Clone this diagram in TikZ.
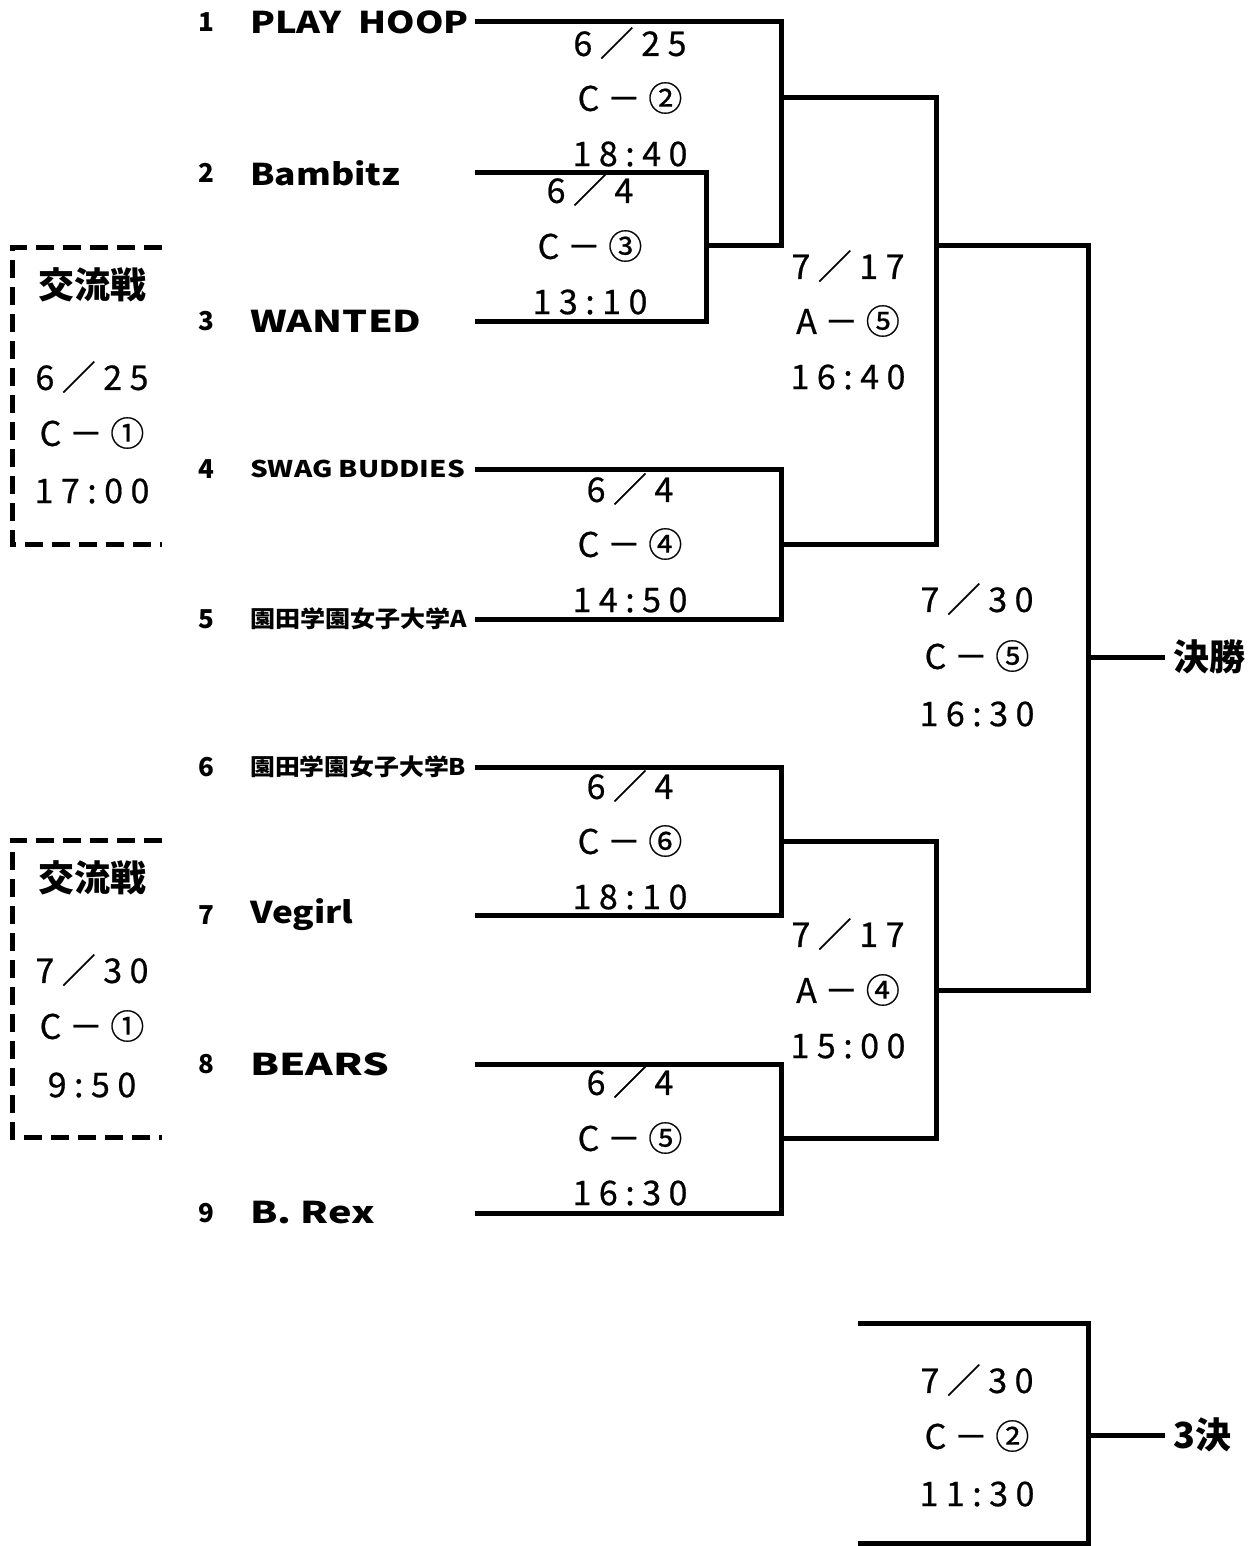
\documentclass[tikz,border=0pt]{standalone}
\usepackage{graphicx}
\usepackage{fontspec}
\setmainfont{Noto Sans CJK JP}
\newfontfamily\datef{Noto Sans CJK JP}[LetterSpace=22,FakeBold=0.6]
\newcommand\hs[2]{\scalebox{#1}[1]{#2}}
\begin{document}
\begin{tikzpicture}[x=1pt,y={(0pt,-1pt)}]
\tikzset{
  ln/.style={line width=5pt},
  dbox/.style={line width=5pt, dash pattern=on 18pt off 9pt},
  team/.style={anchor=west, inner sep=0pt, font=\fontsize{30}{30}\selectfont\bfseries},
  steam/.style={anchor=west, inner sep=0pt, font=\fontsize{23}{23}\selectfont\bfseries},
  num/.style={inner sep=0pt, font=\fontsize{26}{26}\selectfont\bfseries},
  dt/.style={inner sep=0pt, font=\fontsize{34}{34}\datef},
  hd/.style={inner sep=0pt, font=\fontsize{36}{36}\selectfont\bfseries},
}
\useasboundingbox (0,0) rectangle (1256,1546);
% team numbers and names
\foreach \i/\y in {1/22,2/173,3/321,4/469,5/619,6/767,7/915,8/1064,9/1213}{
  \node[num] (n\i) at (206,\y) {\i};
  \coordinate (s\i) at (475,\y);
}
\node[team] (t1) at (250,22) {\hs{1.21}{PLAY\ \ HOOP}};
\node[team] (t2) at (250,173) {\hs{1.18}{Bambitz}};
\node[team] (t3) at (250,321) {\hs{1.31}{WANTED}};
\node[steam] (t4) at (250,469) {\hs{1.21}{SWAG BUDDIES}};
\node[steam] (t5) at (250,619) {\hs{1.09}{園田学園女子大学A}};
\node[steam] (t6) at (250,767) {\hs{1.08}{園田学園女子大学B}};
\node[team] (t7) at (250,915) {\hs{1.17}{Vegirl}};
\node[team] (t8) at (250,1064) {\hs{1.4}{BEARS}};
\node[team] (t9) at (250,1213) {\hs{1.32}{B.\ Rex}};
% bracket coordinates
\coordinate (a23) at (706,246);
\coordinate (b1) at (781,98);
\coordinate (b45) at (781,544);
\coordinate (b67) at (781,841);
\coordinate (b89) at (781,1138);
\coordinate (c1) at (936,246);
\coordinate (c2) at (936,990);
\coordinate (f) at (1088,657);
\coordinate (fe) at (1165,657);
\coordinate (g) at (1088,1435);
\coordinate (ge) at (1165,1435);
% first round
\draw[ln] (s2) -- (706,173) -- (706,321) -- (s3);
\draw[ln] (s1) -- (781,22) -- (781,246) -- (a23);
\draw[ln] (s4) -- (781,469) -- (781,619) -- (s5);
\draw[ln] (s6) -- (781,767) -- (781,915) -- (s7);
\draw[ln] (s8) -- (781,1064) -- (781,1213) -- (s9);
% second round
\draw[ln] (b1) -- (936,98) -- (936,544) -- (b45);
\draw[ln] (b67) -- (936,841) -- (936,1138) -- (b89);
% final
\draw[ln] (c1) -- (1088,246) -- (1088,990) -- (c2);
\draw[ln] (f) -- (fe);
\node[hd, anchor=west] (fin) at (1173,657) {決勝};
% third place
\draw[ln] (858,1323) -- (1088,1323) -- (1088,1543) -- (858,1543);
\draw[ln] (g) -- (ge);
\node[hd, anchor=west] (thr) at (1173,1435) {3決};
% dashed boxes
\draw[dbox] (162,248) -- (12,248) -- (12,544) -- (162,544);
\draw[dbox] (162,840) -- (12,840) -- (12,1137) -- (162,1137);
\node[hd] (k1) at (92,285) {交流戦};
\node[dt] (k1a) at (92,377) {6／25};
\node[dt] (k1b) at (92,433) {C－①};
\node[dt] (k1c) at (92,491) {17:00};
\node[hd] (k2) at (92,878) {交流戦};
\node[dt] (k2a) at (92,970) {7／30};
\node[dt] (k2b) at (92,1026) {C－①};
\node[dt] (k2c) at (92,1085) {9:50};
% match labels
\node[dt] (m1a) at (630,43) {6／25};
\node[dt] (m1b) at (630,98) {C－②};
\node[dt] (m1c) at (630,154) {18:40};
\node[dt] (m2a) at (590,190) {6／4};
\node[dt] (m2b) at (590,246) {C－③};
\node[dt] (m2c) at (590,302) {13:10};
\node[dt] (m3a) at (848,266) {7／17};
\node[dt] (m3b) at (848,321) {A－⑤};
\node[dt] (m3c) at (848,377) {16:40};
\node[dt] (m4a) at (630,489) {6／4};
\node[dt] (m4b) at (630,544) {C－④};
\node[dt] (m4c) at (630,600) {14:50};
\node[dt] (m5a) at (977,599) {7／30};
\node[dt] (m5b) at (977,656) {C－⑤};
\node[dt] (m5c) at (977,714) {16:30};
\node[dt] (m6a) at (630,786) {6／4};
\node[dt] (m6b) at (630,841) {C－⑥};
\node[dt] (m6c) at (630,897) {18:10};
\node[dt] (m7a) at (848,934) {7／17};
\node[dt] (m7b) at (848,990) {A－④};
\node[dt] (m7c) at (848,1046) {15:00};
\node[dt] (m8a) at (630,1082) {6／4};
\node[dt] (m8b) at (630,1138) {C－⑤};
\node[dt] (m8c) at (630,1193) {16:30};
\node[dt] (m9a) at (977,1380) {7／30};
\node[dt] (m9b) at (977,1436) {C－②};
\node[dt] (m9c) at (977,1494) {11:30};
\end{tikzpicture}
\end{document}
